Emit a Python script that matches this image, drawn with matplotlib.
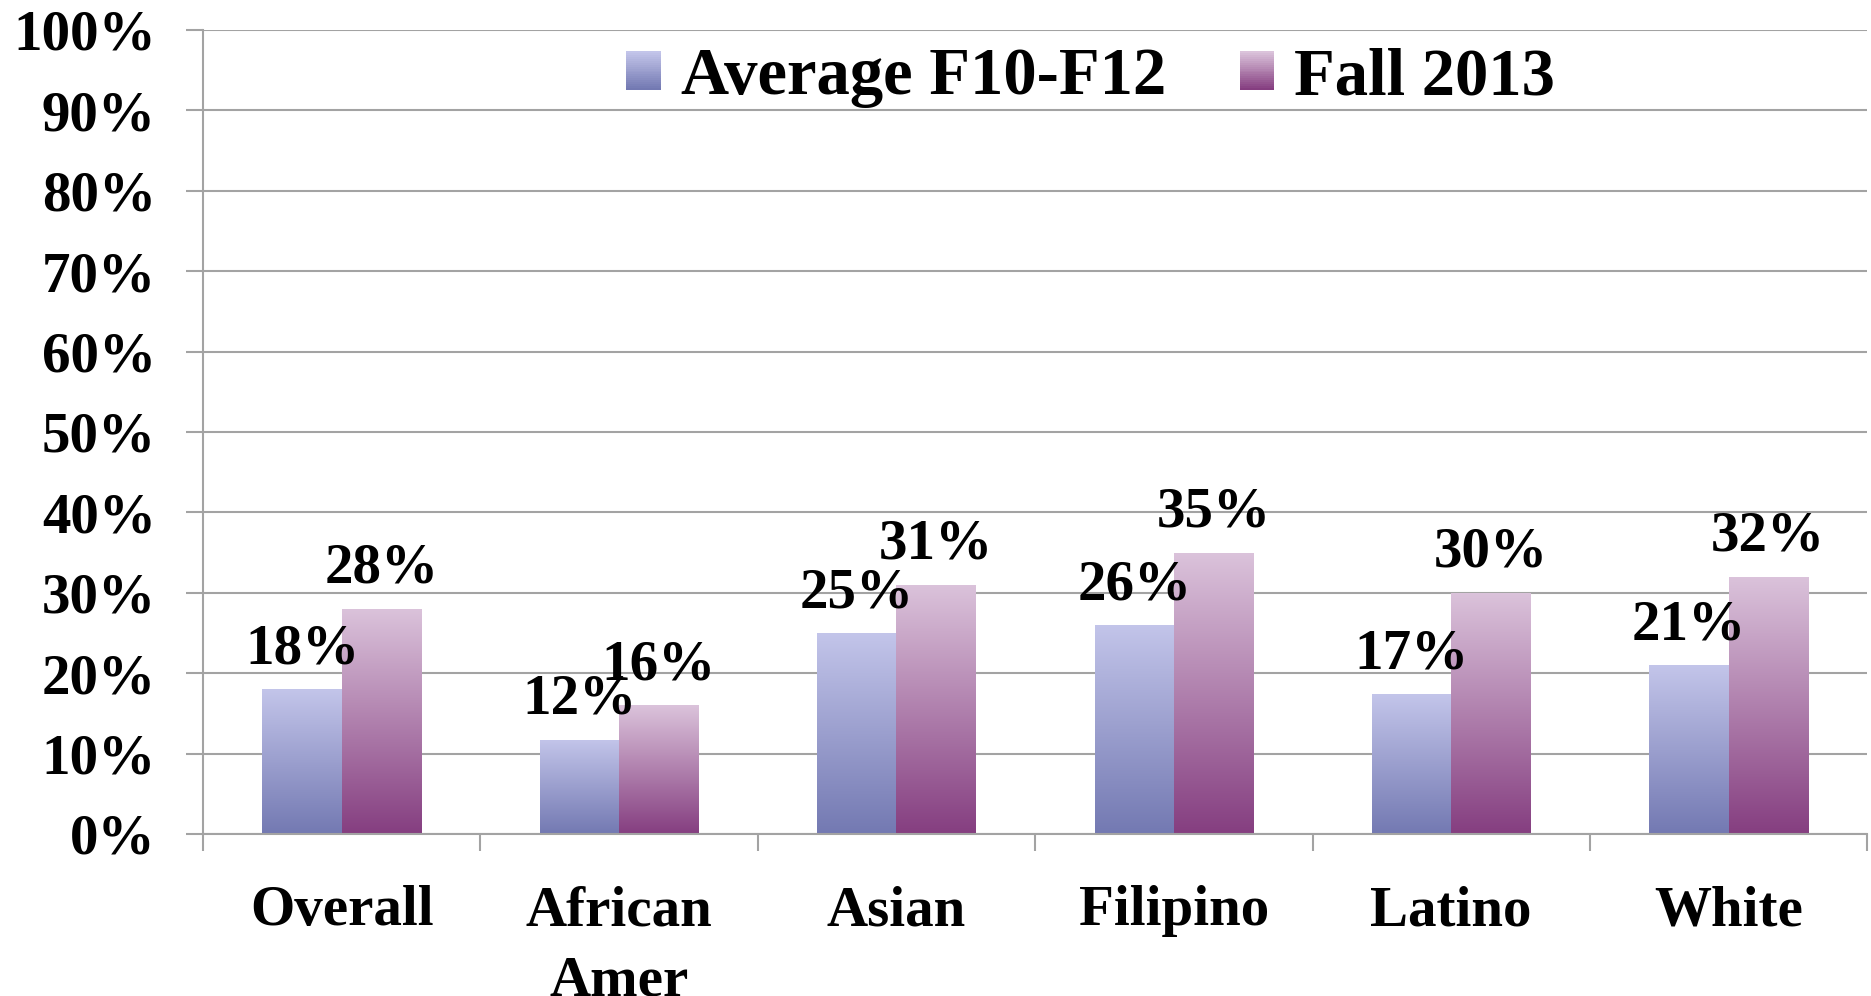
import numpy as np
import matplotlib.pyplot as plt
from matplotlib.colors import to_rgb
from matplotlib.patches import Patch, Rectangle
from matplotlib.legend_handler import HandlerBase
from matplotlib.ticker import PercentFormatter

categories = ['Overall', 'African\nAmer', 'Asian', 'Filipino', 'Latino', 'White']
avg_f10_f12 = [0.18, 0.117, 0.25, 0.26, 0.174, 0.21]
fall_2013 = [0.28, 0.16, 0.31, 0.35, 0.30, 0.32]
series_names = ['Average F10-F12', 'Fall 2013']

# gradient colours (bottom, top)
blue_grad = ('#7379b2', '#c3c5ea')
pink_grad = ('#853e80', '#dbc3db')
grid_col = '#a3a3a3'

plt.rcParams['font.family'] = ['Liberation Serif', 'DejaVu Serif']
plt.rcParams['font.weight'] = 'bold'

fig = plt.figure(figsize=(18.71, 9.96), dpi=100)
ax = fig.add_axes([0.1085, 0.1627, 0.8895, 0.8072])


def blend(cols, t):
    c0, c1 = np.array(to_rgb(cols[0])), np.array(to_rgb(cols[1]))
    return c0 * (1 - t) + c1 * t


def grad_bars(bars, cols):
    t = np.linspace(0, 1, 256)[:, None, None]
    img = blend(cols, t)
    for b in bars:
        x0, y0 = b.get_x(), b.get_y()
        im = ax.imshow(img, extent=(x0, x0 + b.get_width(), y0, y0 + b.get_height()),
                       origin='lower', aspect='auto', zorder=2, interpolation='bilinear')
        im.set_clip_path(b)


class GradHandler(HandlerBase):
    def __init__(self, cols):
        super().__init__()
        self.cols = cols

    def create_artists(self, legend, orig, xd, yd, width, height, fontsize, trans):
        n = 20
        out = []
        for i in range(n):
            r = Rectangle((-xd, -yd + height * i / n), width, height / n + 0.3,
                          facecolor=blend(self.cols, i / (n - 1)), edgecolor='none',
                          transform=trans)
            out.append(r)
        return out


x = np.arange(len(categories))
w = 1 / 3.5
b1 = ax.bar(x - w / 2, avg_f10_f12, w, color='none', lw=0, zorder=2)
b2 = ax.bar(x + w / 2, fall_2013, w, color='none', lw=0, zorder=2)
grad_bars(b1, blue_grad)
grad_bars(b2, pink_grad)

for bars, vals in [(b1, avg_f10_f12), (b2, fall_2013)]:
    for b, v in zip(bars, vals):
        ax.annotate(f'{v:.0%}', (b.get_x() + b.get_width() / 2, v), xytext=(0, 10),
                    textcoords='offset points', ha='center', va='bottom',
                    fontsize=41, fontweight='bold', zorder=5)

ax.set_xlim(-0.5, len(categories) - 0.5)
ax.set_ylim(0, 1)

ax.set_xticks(x, categories)
ax.set_xticks(np.arange(-0.5, len(categories), 1), minor=True)
ax.tick_params(axis='x', which='major', length=0, pad=37, labelsize=41)
ax.tick_params(axis='x', which='minor', length=12, width=1.5, color=grid_col)
for lab in ax.get_xticklabels():
    lab.set_linespacing(1.45)
    lab.set_va('top')

ax.set_yticks(np.arange(0, 1.01, 0.1))
ax.yaxis.set_major_formatter(PercentFormatter(1.0, decimals=0))
ax.tick_params(axis='y', length=12, width=1.5, color=grid_col, pad=22, labelsize=41)
ax.yaxis.grid(True, color=grid_col, lw=1.5, zorder=0)
ax.set_axisbelow(True)

ax.spines['top'].set_visible(False)
ax.spines['right'].set_visible(False)
ax.spines['left'].set_color(grid_col)
ax.spines['bottom'].set_color(grid_col)
ax.spines['left'].set_linewidth(1.5)
ax.spines['bottom'].set_linewidth(1.5)

h1 = Patch(facecolor='#9a9fd0', edgecolor='none')
h2 = Patch(facecolor='#b283ad', edgecolor='none')
fig.legend([h1, h2], series_names, loc='center', bbox_to_anchor=(0.583, 0.922), ncol=2,
           frameon=False, handlelength=0.52, handleheight=0.52,
           handletextpad=0.3, columnspacing=1.1, prop={'weight': 'bold', 'size': 48},
           handler_map={h1: GradHandler(blue_grad), h2: GradHandler(pink_grad)})

fig.savefig('out.png', dpi=100)
